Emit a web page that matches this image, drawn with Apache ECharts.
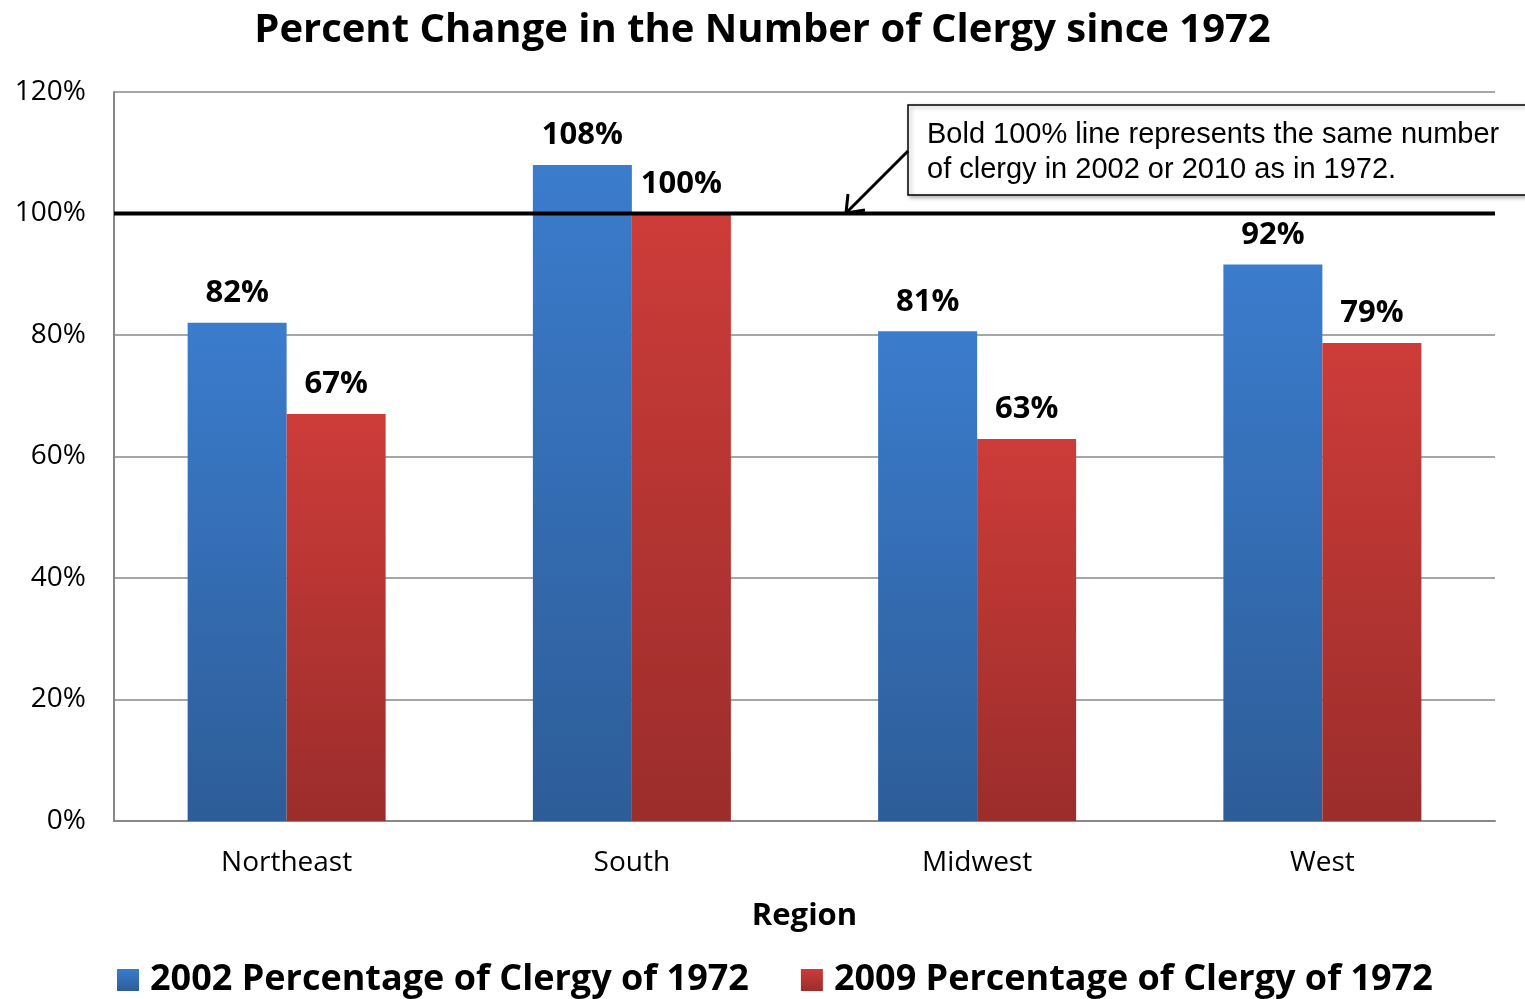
<!DOCTYPE html>
<html>
<head>
<meta charset="utf-8">
<script src="https://cdn.jsdelivr.net/npm/echarts@6/dist/echarts.min.js"></script>
<style>
html,body{margin:0;padding:0;background:#fff;}
#main{width:1525px;height:999px;}
</style>
</head>
<body>
<div id="main"></div>
<script>
// data
var regions = ['Northeast', 'South', 'Midwest', 'West'];
var pct2002 = [82.0, 108.0, 80.6, 91.6];
var pct2009 = [67.0, 100.0, 62.9, 78.7];
var seriesNames = ['2002 Percentage of Clergy of 1972', '2009 Percentage of Clergy of 1972'];
var baseLine = 100;

var FONT = 'Open Sans';

function grad(top, bottom) {
    return new echarts.graphic.LinearGradient(0, 0, 0, 1, [
        {offset: 0, color: top},
        {offset: 1, color: bottom}
    ]);
}

var labelStyle = {
    show: true,
    position: 'top',
    distance: 14,
    fontFamily: FONT,
    fontWeight: 'bold',
    fontSize: 31,
    color: '#000',
    formatter: function (p) { return Math.round(p.value) + '%'; }
};

var option = {
    title: {
        text: 'Percent Change in the Number of Clergy since 1972',
        left: 'center',
        top: 6,
        textStyle: {fontFamily: FONT, fontWeight: 'bold', fontSize: 40, color: '#000'}
    },
    grid: {left: 114, right: 30, top: 92, bottom: 178},
    legend: {
        bottom: -4,
        left: 112,
        icon: 'rect',
        itemWidth: 22,
        itemHeight: 22,
        itemGap: 52,
        textStyle: {fontFamily: FONT, fontWeight: 'bold', fontSize: 36, color: '#000', padding: [0, 0, 0, 6]},
        data: seriesNames
    },
    xAxis: [
        {
            type: 'category',
            data: regions,
            name: 'Region',
            nameLocation: 'middle',
            nameGap: 80,
            nameTextStyle: {fontFamily: FONT, fontWeight: 'bold', fontSize: 31, color: '#000'},
            axisLine: {lineStyle: {color: '#888', width: 2}},
            axisTick: {show: false},
            axisLabel: {fontFamily: FONT, fontSize: 28, color: '#000', margin: 28}
        },
        {
            // hidden helper axis for the 100% reference line
            type: 'value',
            min: 0,
            max: 1,
            show: false
        }
    ],
    yAxis: {
        type: 'value',
        min: 0,
        max: 120,
        interval: 20,
        axisLine: {show: true, lineStyle: {color: '#888', width: 2}},
        axisTick: {show: false},
        splitLine: {lineStyle: {color: '#888', width: 1.5}},
        axisLabel: {fontFamily: FONT, fontSize: 28, color: '#000', margin: 28, formatter: '{value}%'}
    },
    series: [
        {
            name: seriesNames[0],
            type: 'bar',
            data: pct2002,
            barWidth: 99,
            barGap: '0%',
            itemStyle: {color: grad('#3b7ccd', '#2d5d98')},
            label: labelStyle,
            z: 2
        },
        {
            name: seriesNames[1],
            type: 'bar',
            data: pct2009,
            barWidth: 99,
            itemStyle: {color: grad('#cd3c39', '#9b2d2b')},
            label: labelStyle,
            z: 2
        },
        {
            name: 'base',
            type: 'line',
            xAxisIndex: 1,
            data: [[0, baseLine], [1, baseLine]],
            symbol: 'none',
            silent: true,
            lineStyle: {color: '#000', width: 4},
            z: 5
        }
    ],
    graphic: [
        {
            type: 'rect',
            shape: {x: 908, y: 105, width: 630, height: 90},
            style: {fill: '#fff', stroke: '#000', lineWidth: 1.5, shadowBlur: 4, shadowColor: 'rgba(0,0,0,0.3)', shadowOffsetX: 2, shadowOffsetY: 2},
            z: 10
        },
        {
            type: 'text',
            left: 927,
            top: 117,
            style: {
                text: 'Bold 100% line represents the same number\nof clergy in 2002 or 2010 as in 1972.',
                font: '29px "Liberation Sans", Arial, sans-serif',
                lineHeight: 35,
                fill: '#000'
            },
            z: 11
        },
        {
            type: 'line',
            shape: {x1: 908, y1: 151, x2: 847, y2: 212},
            style: {stroke: '#000', lineWidth: 3},
            z: 11
        },
        {
            type: 'polyline',
            shape: {points: [[848, 194], [846, 213], [865, 210]]},
            style: {stroke: '#000', lineWidth: 3, fill: null},
            z: 11
        }
    ]
};

var chart = echarts.init(document.getElementById('main'));
chart.setOption(option);
</script>
</body>
</html>
